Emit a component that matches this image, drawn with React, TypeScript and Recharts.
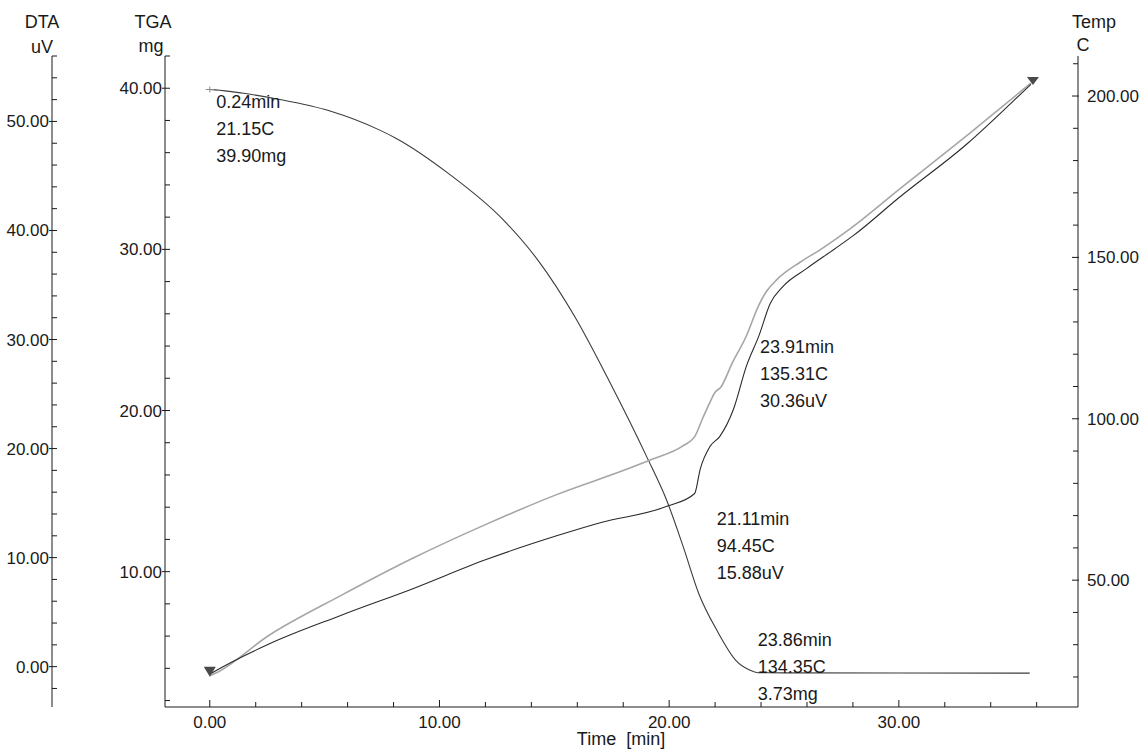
import React from "react";
import { LineChart, Line, XAxis, YAxis, ReferenceDot } from "recharts";

// TGA (mg) vs time (min)
const tgaTime = [0, 0.24, 1.4, 3.05, 5.2, 7.4, 8.1, 10.4, 12.8, 14.3, 15.9, 17.4, 19.0, 19.9, 20.6, 21.3, 22.1, 22.9, 23.5, 23.86, 25, 30, 35.7];
const tgaMass = [39.92, 39.9, 39.7, 39.3, 38.6, 37.4, 36.9, 34.7, 31.8, 29.3, 25.8, 21.8, 17.2, 14.4, 11.6, 8.6, 6.3, 4.5, 3.9, 3.73, 3.72, 3.71, 3.7];

// Temp (C) vs time (min)
const tempTime = [0, 0.24, 2.6, 5.7, 8.9, 12.0, 15.1, 18.2, 19.2, 20.6, 21.11, 21.45, 21.8, 22.0, 22.25, 22.75, 23.35, 23.91, 24.24, 24.7, 25.7, 26.6, 27.9, 30, 33, 35.75];
const tempValue = [20.4, 21.15, 33.0, 45.2, 57.0, 67.2, 76.5, 84.5, 87.3, 91.6, 94.45, 100, 105.5, 108.2, 109.8, 117.3, 125.5, 135.31, 139.5, 143.2, 148.5, 152.5, 159.0, 171, 188, 204];

// DTA (uV) vs time (min)
const dtaTime = [0, 0.24, 2.6, 5.7, 8.9, 12.0, 15.1, 17.0, 19.9, 21.11, 21.35, 21.78, 22.2, 22.8, 23.37, 23.91, 24.4, 24.97, 25.98, 27.2, 28.0, 30, 33, 35, 35.75];
const dtaValue = [-0.7, -0.4, 2.1, 4.7, 7.2, 9.8, 12.0, 13.2, 14.7, 15.88, 18.1, 20.2, 21.1, 23.6, 27.6, 30.36, 33.3, 34.9, 36.5, 38.3, 39.5, 43.0, 48.0, 51.9, 53.4];

// axis ticks
const timeTicks = [0, 2, 4, 6, 8, 10, 12, 14, 16, 18, 20, 22, 24, 26, 28, 30, 32, 34, 36];
const tgaTicks = [2, 4, 6, 8, 10, 12, 14, 16, 18, 20, 22, 24, 26, 28, 30, 32, 34, 36, 38, 40, 42];
const dtaTicks = [-2, 0, 2, 4, 6, 8, 10, 12, 14, 16, 18, 20, 22, 24, 26, 28, 30, 32, 34, 36, 38, 40, 42, 44, 46, 48, 50, 52, 54, 56];
const tempTicks = [20, 30, 40, 50, 60, 70, 80, 90, 100, 110, 120, 130, 140, 150, 160, 170, 180, 190, 200, 210];

// peak annotations
const tgaNotes = [
  { t: 0.24, v: 39.9, lines: ["0.24min", "21.15C", "39.90mg"], dx: 1, dy: 12 },
  { t: 23.86, v: 3.73, lines: ["23.86min", "134.35C", "3.73mg"], dx: 0, dy: -33 },
];
const dtaNotes = [
  { t: 23.91, v: 30.36, lines: ["23.91min", "135.31C", "30.36uV"], dx: 1, dy: 11 },
  { t: 21.11, v: 15.88, lines: ["21.11min", "94.45C", "15.88uV"], dx: 22, dy: 26 },
];

const tgaData = tgaTime.map((t, i) => ({ t, mg: tgaMass[i] }));
const tempData = tempTime.map((t, i) => ({ t, c: tempValue[i] }));
const dtaData = dtaTime.map((t, i) => ({ t, uv: dtaValue[i] }));

const FONT = "'Liberation Sans', Arial, sans-serif";
const INK = "#1a1a1a";

function AxisTick(props: any) {
  const { x, y, payload, side } = props;
  const v = payload.value;
  const major = side === "temp" ? v % 50 === 0 : v % 10 === 0;
  const label = v.toFixed(2);
  if (side === "time") {
    return (
      <g>
        <line x1={x} x2={x} y1={y} y2={y - (major ? 7 : 5)} stroke={INK} />
        {major && (
          <text x={x} y={y + 21} textAnchor="middle" fontSize={17} fill={INK} fontFamily={FONT}>
            {label}
          </text>
        )}
      </g>
    );
  }
  if (side === "temp") {
    return (
      <g>
        <line x1={x + (major ? 1 : 0)} x2={x - (major ? 6 : 5)} y1={y} y2={y} stroke={INK} />
        {major && (
          <text x={x + 9} y={y + 6} textAnchor="start" fontSize={17} fill={INK} fontFamily={FONT}>
            {label}
          </text>
        )}
      </g>
    );
  }
  return (
    <g>
      <line x1={x - (major ? 3 : 0)} x2={x + 5} y1={y} y2={y} stroke={INK} />
      {major && (
        <text x={x - 3} y={y + 6} textAnchor="end" fontSize={17} fill={INK} fontFamily={FONT}>
          {label}
        </text>
      )}
    </g>
  );
}

function Note({ cx, cy, lines, dx, dy }: any) {
  return (
    <text fontSize={18} fill={INK} fontFamily={FONT}>
      {lines.map((s: string, i: number) => (
        <tspan key={i} x={cx + dx} y={cy + dy + 6 + i * 27}>
          {s}
        </tspan>
      ))}
    </text>
  );
}

const titles = [
  { text: "DTA", x: 42, y: 22 },
  { text: "uV", x: 42, y: 47 },
  { text: "TGA", x: 153, y: 22 },
  { text: "mg", x: 151, y: 46 },
  { text: "Temp", x: 1094, y: 22 },
  { text: "C", x: 1083, y: 45 },
  { text: "Time\u00a0\u00a0[min]", x: 621, y: 739 },
];

export default function App() {
  return (
    <div style={{ position: "absolute", left: 0, top: 0, width: 1141, height: 753, background: "#fff", fontFamily: FONT }}>
      <LineChart width={1141} height={753} margin={{ top: 56, right: 0, bottom: 0, left: 0 }}>
        <XAxis
          xAxisId="t"
          dataKey="t"
          type="number"
          domain={[-1.95, 37.8]}
          allowDataOverflow
          ticks={timeTicks}
          interval={0}
          tickSize={0}
          tickMargin={0}
          height={46}
          axisLine={{ stroke: INK }}
          tickLine={false}
          tick={(p: any) => <AxisTick {...p} side="time" />}
        />
        <XAxis xAxisId="top" orientation="top" type="number" domain={[-1.95, 37.8]} height={0} tick={false} tickLine={false} axisLine={{ stroke: INK }} />
        <YAxis
          yAxisId="a_tga"
          orientation="left"
          type="number"
          domain={[1.6, 42]}
          allowDataOverflow
          ticks={tgaTicks}
          interval={0}
          tickSize={0}
          tickMargin={0}
          width={113}
          axisLine={{ stroke: INK }}
          tickLine={false}
          tick={(p: any) => <AxisTick {...p} side="tga" />}
        />
        <YAxis
          yAxisId="b_dta"
          orientation="left"
          type="number"
          domain={[-3.7, 56]}
          allowDataOverflow
          ticks={dtaTicks}
          interval={0}
          tickSize={0}
          tickMargin={0}
          width={52}
          axisLine={{ stroke: INK }}
          tickLine={false}
          tick={(p: any) => <AxisTick {...p} side="dta" />}
        />
        <YAxis
          yAxisId="c_temp"
          orientation="right"
          type="number"
          domain={[10.7, 212.4]}
          allowDataOverflow
          ticks={tempTicks}
          interval={0}
          tickSize={0}
          tickMargin={0}
          width={63}
          axisLine={{ stroke: INK }}
          tickLine={false}
          tick={(p: any) => <AxisTick {...p} side="temp" />}
        />
        <Line xAxisId="t" yAxisId="a_tga" data={tgaData} dataKey="mg" type="monotone" stroke="#3c3c3c" strokeWidth={1.1} dot={false} isAnimationActive={false} />
        <Line xAxisId="t" yAxisId="c_temp" data={tempData} dataKey="c" type="monotone" stroke="#a6a6a6" strokeWidth={1.6} dot={false} isAnimationActive={false} />
        <Line xAxisId="t" yAxisId="b_dta" data={dtaData} dataKey="uv" type="monotone" stroke="#2b2b2b" strokeWidth={1.1} dot={false} isAnimationActive={false} />
        <ReferenceDot
          xAxisId="t"
          yAxisId="c_temp"
          x={tempTime[0]}
          y={tempValue[0]}
          shape={(p: any) => <polygon points={`${p.cx - 6},${p.cy - 9} ${p.cx + 6},${p.cy - 9} ${p.cx},${p.cy + 1}`} fill="#4a4a4a" />}
        />
        <ReferenceDot
          xAxisId="t"
          yAxisId="c_temp"
          x={tempTime[tempTime.length - 1]}
          y={tempValue[tempValue.length - 1]}
          shape={(p: any) => <polygon points={`${p.cx - 4},${p.cy - 6} ${p.cx + 8},${p.cy - 6} ${p.cx + 2},${p.cy + 2}`} fill="#4a4a4a" />}
        />
        <ReferenceDot
          xAxisId="t"
          yAxisId="a_tga"
          x={tgaTime[0]}
          y={tgaMass[0]}
          shape={(p: any) => (
            <g stroke="#8a8a8a" strokeWidth={1}>
              <line x1={p.cx - 4} x2={p.cx + 4} y1={p.cy} y2={p.cy} />
              <line x1={p.cx} x2={p.cx} y1={p.cy - 3} y2={p.cy + 3} />
            </g>
          )}
        />
        {tgaNotes.map((n, i) => (
          <ReferenceDot key={"g" + i} xAxisId="t" yAxisId="a_tga" x={n.t} y={n.v} shape={(p: any) => <Note cx={p.cx} cy={p.cy} lines={n.lines} dx={n.dx} dy={n.dy} />} />
        ))}
        {dtaNotes.map((n, i) => (
          <ReferenceDot key={"d" + i} xAxisId="t" yAxisId="b_dta" x={n.t} y={n.v} shape={(p: any) => <Note cx={p.cx} cy={p.cy} lines={n.lines} dx={n.dx} dy={n.dy} />} />
        ))}
      </LineChart>
      {titles.map((tt) => (
        <div
          key={tt.text}
          style={{ position: "absolute", left: tt.x, top: tt.y, transform: "translate(-50%, -50%)", fontSize: 18, lineHeight: 1, color: INK, whiteSpace: "nowrap" }}
        >
          {tt.text}
        </div>
      ))}
    </div>
  );
}
